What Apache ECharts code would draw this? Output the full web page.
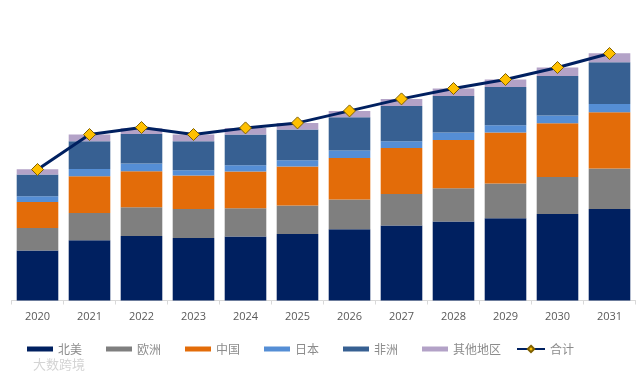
<!DOCTYPE html>
<html>
<head>
<meta charset="utf-8">
<style>html,body{margin:0;padding:0;background:#fff}#c{width:637px;height:378px}</style>
<script src="https://cdn.jsdelivr.net/npm/echarts@6/dist/echarts.min.js"></script>
</head>
<body>
<div id="c"></div>
<script>
const years = ['2020','2021','2022','2023','2024','2025','2026','2027','2028','2029','2030','2031'];
const northAmerica = [50, 60.3, 64.6, 62.6, 64, 66.6, 71.3, 75, 79, 82.3, 86.6, 91.6];
const europe = [22.6, 27.3, 28.7, 29, 28.3, 28.4, 29.7, 31.6, 33.3, 34.7, 37, 40.4];
const china = [26, 36.7, 36, 33.4, 36.7, 39, 41.6, 46, 48.3, 51, 53.7, 56.3];
const japan = [5.7, 7.3, 7.7, 5.3, 6.3, 6.3, 7.4, 6.7, 7.4, 7.3, 7.7, 8.3];
const africa = [21.7, 27.7, 29.6, 29, 30.7, 30.7, 33.3, 35.3, 36.6, 38.3, 39.6, 41.7];
const others = [5.3, 6.7, 5.7, 6.7, 6.6, 6.6, 6.3, 7, 7.4, 7.4, 8.4, 9];
const total = [131, 166, 173, 166, 172.6, 177.6, 189.6, 201.6, 212, 221, 233, 247];

const chart = echarts.init(document.getElementById('c'), null, {renderer:'canvas'});
const bar = (name, data, color) => ({
  name, type:'bar', stack:'a', data, barWidth:'80%',
  itemStyle:{color}, animation:false
});
const legendText = {fontFamily:'Noto Sans CJK SC', fontSize:12, color:'#8c8c8c'};
chart.setOption({
  animation:false,
  backgroundColor:'#fff',
  grid:{left:11.5, right:1.5, top:20.5, height:280},
  legend:[{
    left:27, top:343, padding:0, itemWidth:26, itemHeight:5, itemGap:24,
    textStyle:legendText,
    data:[
      {name:'北美', icon:'rect'},{name:'欧洲', icon:'rect'},{name:'中国', icon:'rect'},
      {name:'日本', icon:'rect'},{name:'非洲', icon:'rect'},{name:'其他地区', icon:'rect'}
    ]
  },{
    left:516, top:343, padding:0, itemWidth:28, itemHeight:8,
    textStyle:legendText,
    data:[{name:'合计'}]
  }],
  xAxis:{
    type:'category', data:years,
    axisLine:{lineStyle:{color:'#d9d9d9', width:1}},
    axisTick:{show:true, length:4, lineStyle:{color:'#d9d9d9'}},
    axisLabel:{fontFamily:'Open Sans', fontSize:11, color:'#595959', margin:11}
  },
  yAxis:{type:'value', min:0, max:280, show:false, splitLine:{show:false}},
  series:[
    bar('北美', northAmerica, '#002060'),
    bar('欧洲', europe, '#7F7F7F'),
    bar('中国', china, '#E36C09'),
    bar('日本', japan, '#558ED5'),
    bar('非洲', africa, '#376092'),
    bar('其他地区', others, '#B3A2C7'),
    {
      name:'合计', type:'line', data:total, z:10,
      symbol:'diamond', symbolSize:12, showSymbol:true,
      lineStyle:{color:'#002060', width:3},
      itemStyle:{color:'#FFC000', borderColor:'#7F6000', borderWidth:1}
    }
  ],
  graphic:[{
    type:'text', left:33, top:358,
    style:{text:'大数跨境', fontFamily:'Noto Sans CJK SC', fontSize:13, fill:'#d4d4d4'}
  }]
});
</script>
</body>
</html>
